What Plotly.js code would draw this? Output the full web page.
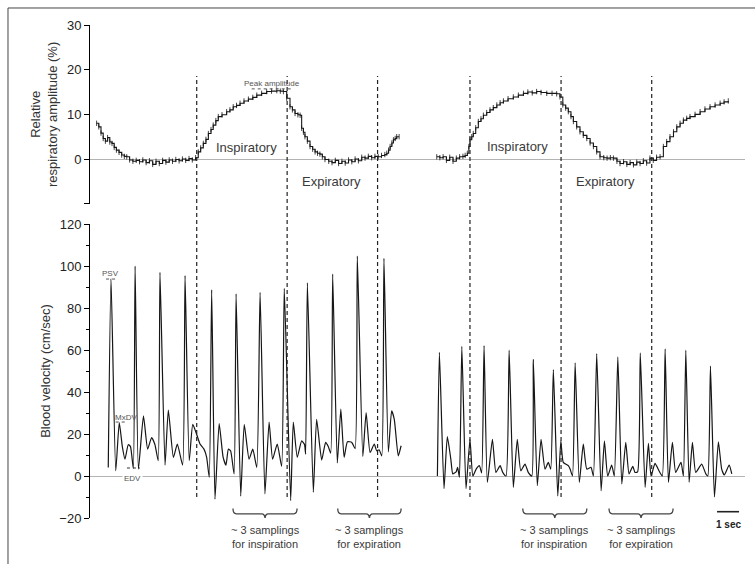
<!DOCTYPE html>
<html>
<head>
<meta charset="utf-8">
<script src="https://cdn.plot.ly/plotly-3.0.1.min.js"></script>
<style>html,body{margin:0;padding:0;background:#fff;}#chart{width:755px;height:564px;}</style>
</head>
<body>
<div id="chart"></div>
<script>
// ---------- Data (time in seconds) ----------
// Aorta (Ao) blood velocity, cm/sec
var aoTime = [0.83,0.955,1.17,1.33,1.47,1.59,1.74,1.84,1.97,2.05,2.20,2.43,2.62,2.80,2.95,3.10,3.18,3.41,3.56,3.79,3.97,4.21,4.32,4.51,4.67,4.82,5.00,5.18,5.30,5.42,5.53,5.68,5.87,6.05,6.18,6.29,6.39,6.55,6.64,6.85,7.01,7.23,7.40,7.58,7.73,7.95,8.14,8.30,8.51,8.71,8.83,9.12,9.24,9.42,9.62,9.75,9.80,9.88,10.15,10.30,10.53,10.71,10.83,10.94,11.03,11.24,11.40,11.55,11.70,11.90,12.05,12.15,12.40,12.55,12.73,12.92,13.03,13.14,13.26,13.36,13.56,13.71,13.83,14.01,14.14];
var aoVel  = [4,94,2.5,25.4,14,8,15,14,3.6,100,3.3,28.6,12.8,18.3,15,7.3,97,5.2,31.4,8.9,15.2,5.2,95.4,7.3,24.6,20.7,15.2,12.8,9,-0.6,88.6,-11,25,9,5.2,12.8,12,1,86.7,-9.6,24.6,8,12.8,4.1,87.5,-8.5,25.7,8,15.2,4.6,89.4,-11.7,25.7,8.9,16.7,15,10.4,92,-7.7,27,7.6,16,14,10.9,96.2,6.2,31.8,8.9,16.3,16,13,104.7,9.3,30.2,11.2,15.2,12,12.5,9.6,103.6,11.5,31,27,9.6,14.4];

// Left femoral artery (LFA) blood velocity, cm/sec
var lfaTime = [15.79,15.88,16.09,16.24,16.40,16.49,16.64,16.71,16.79,16.90,17.09,17.27,17.40,17.55,17.70,17.80,17.91,18.06,18.29,18.45,18.64,18.76,18.91,19.05,19.24,19.42,19.58,19.77,19.92,20.08,20.15,20.33,20.50,20.68,20.83,20.94,21.06,21.26,21.40,21.51,21.74,21.82,21.93,22.05,22.24,22.42,22.58,22.77,22.88,23.03,23.23,23.38,23.53,23.71,23.83,23.99,24.17,24.35,24.50,24.67,24.77,24.89,25.01,25.23,25.38,25.50,25.68,25.86,26.01,26.14,26.29,26.47,26.62,26.86,26.97,27.08,27.23,27.38,27.53,27.80,27.99,28.08,28.20,28.38,28.56,28.71,28.83,29.05,29.17];
var lfaVel  = [0,58.9,-6,18.8,8,1,2,4.1,-0.6,61.8,-6,17.5,0,3.3,4.9,1.5,62.1,-3,17.5,1.7,4.9,1.7,0,59.9,-5.4,17.5,2.5,5.7,1.7,0,55.5,-4.6,17.5,3.3,6.5,3.3,50.7,-9.5,16.7,6.5,4.9,3.3,0,53.9,-3,15.2,3.3,4.1,0,58.3,-7,16.7,0,5.2,0,56.7,-3.8,16,1,4.6,1.7,2,58.6,-5.4,15.6,0,6,2.5,0,60.5,-3,16,1.7,6.5,0,59.9,-3,16,1.7,5.7,1,0,52.3,-10,16.3,3.3,0.5,5.2,1];

// Relative respiratory amplitude (%), during Ao recording
var respAoTime = [0.30,0.40,0.50,0.60,0.70,0.80,0.90,1.00,1.10,1.20,1.32,1.44,1.56,1.67,1.80,1.95,2.10,2.25,2.40,2.55,2.70,2.85,3.00,3.15,3.30,3.45,3.60,3.75,3.90,4.05,4.20,4.35,4.50,4.65,4.80,4.92,5.03,5.15,5.27,5.38,5.50,5.60,5.72,5.83,6.00,6.21,6.36,6.51,6.66,6.82,7.00,7.20,7.40,7.58,7.80,8.03,8.25,8.49,8.65,8.79,8.94,9.09,9.20,9.32,9.45,9.55,9.62,9.70,9.77,9.88,10.00,10.12,10.23,10.34,10.45,10.56,10.68,10.85,11.00,11.15,11.30,11.45,11.60,11.75,11.90,12.05,12.20,12.35,12.50,12.65,12.80,12.95,13.10,13.25,13.40,13.49,13.57,13.64,13.72,13.79,13.87,13.94,14.05];
var respAoAmp  = [8.0,7.2,5.8,4.6,4.0,4.8,3.8,3.5,2.6,2.0,1.5,0.9,0.6,0.5,-0.2,-0.5,-0.3,-0.6,-0.2,-0.8,-0.4,-1.2,-0.5,-1.0,-0.3,-0.7,-0.2,-0.5,-0.1,-0.4,0.0,-0.3,0.1,-0.2,0.3,1.6,2.5,3.5,4.4,5.7,6.6,7.6,8.6,9.5,9.9,10.6,11.0,11.7,12.0,12.5,13.0,13.4,13.8,14.3,14.7,15.1,15.2,15.3,15.2,15.1,13.6,11.7,11.0,10.2,9.9,9.8,6.9,6.0,5.0,4.0,2.8,2.2,1.6,1.3,1.1,0.5,-0.1,-0.5,-0.8,-0.3,-1.0,-0.5,-0.9,-0.2,-0.6,0.0,-0.4,0.4,0.2,0.6,0.3,0.6,0.5,0.8,1.0,1.3,2.0,2.8,3.6,4.3,4.6,5.0,5.0];

// Relative respiratory amplitude (%), during LFA recording
var respLfaTime = [15.76,15.90,16.05,16.20,16.35,16.50,16.65,16.80,16.95,17.05,17.15,17.22,17.27,17.35,17.42,17.53,17.65,17.77,17.88,18.03,18.18,18.33,18.49,18.64,18.79,19.00,19.24,19.47,19.70,19.90,20.10,20.30,20.50,20.76,21.00,21.21,21.36,21.49,21.62,21.74,21.86,21.97,22.12,22.27,22.42,22.58,22.73,22.88,23.03,23.18,23.35,23.50,23.65,23.79,23.95,24.09,24.25,24.40,24.55,24.70,24.85,25.00,25.15,25.30,25.45,25.60,25.75,25.91,26.06,26.21,26.36,26.52,26.67,26.82,26.97,27.12,27.27,27.50,27.73,27.95,28.18,28.41,28.64,28.82,29.01];
var respLfaAmp  = [0.5,0.3,0.5,-0.3,0.4,-0.5,0.2,0.5,0.6,0.8,1.3,2.8,4.3,5.0,5.7,7.0,8.4,9.0,9.8,10.4,11.0,11.5,12.1,12.6,13.0,13.5,13.9,14.3,14.7,15.0,14.8,15.1,14.9,14.7,14.7,14.6,13.9,12.1,11.4,10.6,9.5,8.4,7.2,6.1,5.3,4.6,3.6,2.8,1.6,0.5,0.3,0.2,0.3,0.2,-0.5,-1.0,-0.6,-1.2,-0.8,-1.3,-0.7,-1.0,-0.4,-0.9,0.2,-0.3,0.4,0.5,2.8,3.9,5.0,6.1,7.2,8.0,8.7,9.1,9.5,10.0,10.6,11.2,11.7,12.1,12.5,12.8,13.0];

// Respiratory phase boundaries (s)
var phaseLines = [4.85, 8.96, 13.07, 17.27, 21.41, 25.53];
// Sampling brackets: [start, end] in seconds
var bracketStart = [6.50, 11.26, 19.67, 23.59];
var bracketEnd   = [9.41, 14.14, 22.58, 26.50];
var bracketText  = ['~ 3 samplings<br>for inspiration','~ 3 samplings<br>for expiration','~ 3 samplings<br>for inspiration','~ 3 samplings<br>for expiration'];

// ---------- Traces ----------
var ink = '#161616';
var traces = [
  {x: aoTime, y: aoVel, xaxis:'x', yaxis:'y', mode:'lines', line:{color:ink, width:1.2, shape:'spline', smoothing:0.5}},
  {x: lfaTime, y: lfaVel, xaxis:'x', yaxis:'y', mode:'lines', line:{color:ink, width:1.2, shape:'spline', smoothing:0.5}},
  {x: respAoTime, y: respAoAmp, xaxis:'x', yaxis:'y2', mode:'lines', line:{color:ink, width:1.1, shape:'hv'},
   error_y:{type:'constant', value:0.6, width:0, thickness:0.8, color:ink}},
  {x: respLfaTime, y: respLfaAmp, xaxis:'x', yaxis:'y2', mode:'lines', line:{color:ink, width:1.1, shape:'hv'},
   error_y:{type:'constant', value:0.6, width:0, thickness:0.8, color:ink}}
];

// ---------- Shapes ----------
var shapes = [];
// figure frame (left and top edges)
shapes.push({type:'line', xref:'paper', yref:'paper', x0:-0.1252, x1:-0.1252, y0:-0.1, y1:1.0345, line:{color:'#444', width:1}});
shapes.push({type:'line', xref:'paper', yref:'paper', x0:-0.1252, x1:1.02, y0:1.0345, y1:1.0345, line:{color:'#444', width:1}});
// dashed phase lines
phaseLines.forEach(function(t){
  shapes.push({type:'line', xref:'x', yref:'paper', x0:t, x1:t, y0:0.0426, y1:0.8966, line:{color:'#222', width:1.2, dash:'4px,3px'}});
});
// brackets
for (var i=0;i<bracketStart.length;i++){
  var a=bracketStart[i], b=bracketEnd[i], c=(a+b)/2, d=0.15;
  var p = 'M '+a+',-15.5 Q '+a+',-18 '+(a+d)+',-18 L '+(c-d)+',-18 Q '+c+',-18 '+c+',-20.5 Q '+c+',-18 '+(c+d)+',-18 L '+(b-d)+',-18 Q '+b+',-18 '+b+',-15.5';
  shapes.push({type:'path', xref:'x', yref:'y', path:p, line:{color:'#444', width:1.3}});
}
// 1 sec scale bar
shapes.push({type:'line', xref:'x', yref:'y', x0:28.5, x1:29.5, y0:-17, y1:-17, line:{color:'#222', width:1.6}});
// dotted markers
shapes.push({type:'line', xref:'x', yref:'y2', x0:7.35, x1:9.23, y0:15.7, y1:15.7, line:{color:'#555', width:1, dash:'dot'}});
shapes.push({type:'line', xref:'x', yref:'y', x0:0.73, x1:1.21, y0:93.8, y1:93.8, line:{color:'#555', width:1, dash:'dot'}});
shapes.push({type:'line', xref:'x', yref:'y', x0:1.17, x1:1.67, y0:25.7, y1:25.7, line:{color:'#555', width:1, dash:'dot'}});
shapes.push({type:'line', xref:'x', yref:'y', x0:1.68, x1:2.27, y0:3.8, y1:3.8, line:{color:'#333', width:1.2, dash:'dot'}});

// ---------- Annotations ----------
var annotations = [];
function ann(o){ o.showarrow=false; annotations.push(o); }
var gray='#3a3a3a';
ann({x:7.12, y:2.5, xref:'x', yref:'y2', text:'Inspiratory', font:{size:13, color:gray}});
ann({x:10.99, y:-5.1, xref:'x', yref:'y2', text:'Expiratory', font:{size:13, color:gray}});
ann({x:19.41, y:2.7, xref:'x', yref:'y2', text:'Inspiratory', font:{size:13, color:gray}});
ann({x:23.45, y:-5.1, xref:'x', yref:'y2', text:'Expiratory', font:{size:13, color:gray}});
ann({x:8.26, y:16.95, xref:'x', yref:'y2', text:'Peak amplitude', font:{size:8, color:'#555'}});
ann({x:1.36, y:122.7, xref:'x', yref:'y', text:'<b>Ao</b>', font:{size:14, color:'#111'}});
ann({x:16.86, y:122.7, xref:'x', yref:'y', text:'<b>LFA</b>', font:{size:14, color:'#111'}});
ann({x:0.91, y:96.5, xref:'x', yref:'y', text:'PSV', font:{size:8, color:'#555'}});
ann({x:1.62, y:27.9, xref:'x', yref:'y', text:'MxDV', font:{size:8, color:'#555'}});
ann({x:1.94, y:-1.1, xref:'x', yref:'y', text:'EDV', font:{size:8, color:'#555'}, bgcolor:'#fff', borderpad:1});
for (var j=0;j<bracketStart.length;j++){
  ann({x:(bracketStart[j]+bracketEnd[j])/2, y:-0.038, xref:'x', yref:'paper', text:bracketText[j], font:{size:11, color:gray}, yanchor:'middle'});
}
ann({x:29.0, y:-0.013, xref:'x', yref:'paper', text:'<b>1 sec</b>', font:{size:10, color:'#222'}, yanchor:'middle'});

// ---------- Layout ----------
var axisCommon = {showline:true, linecolor:'#000', linewidth:1, ticks:'outside', ticklen:5, tickcolor:'#000',
  showgrid:false, zeroline:true, zerolinecolor:'#b3b3b3', zerolinewidth:1, tickfont:{size:13, color:'#222'},
  fixedrange:true};
var layout = {
  width:755, height:564,
  margin:{l:90, r:10, t:25, b:46},
  paper_bgcolor:'#fff', plot_bgcolor:'#fff',
  showlegend:false,
  font:{family:'"Liberation Sans", Arial, Helvetica, sans-serif', color:'#222'},
  xaxis:{range:[0, 29.77], visible:false, fixedrange:true},
  yaxis: Object.assign({}, axisCommon, {
    domain:[0, 0.5963], range:[-20, 120], tickvals:[-20,0,20,40,60,80,100,120],
    minor:{tickvals:[-10,10,30,50,70,90,110], ticks:'outside', ticklen:3, tickcolor:'#000'},
    title:{text:'Blood velocity (cm/sec)', font:{size:13, color:'#333'}, standoff:5}
  }),
  yaxis2: Object.assign({}, axisCommon, {
    domain:[0.6375, 1], range:[-10, 30], tickvals:[-10,0,10,20,30], ticktext:['','0','10','20','30'],
    anchor:'x',
    title:{text:'Relative<br>respiratory amplitude (%)', font:{size:13, color:'#333'}, standoff:6}
  }),
  shapes:shapes,
  annotations:annotations
};

Plotly.newPlot('chart', traces, layout, {staticPlot:true, displayModeBar:false});
</script>
</body>
</html>
